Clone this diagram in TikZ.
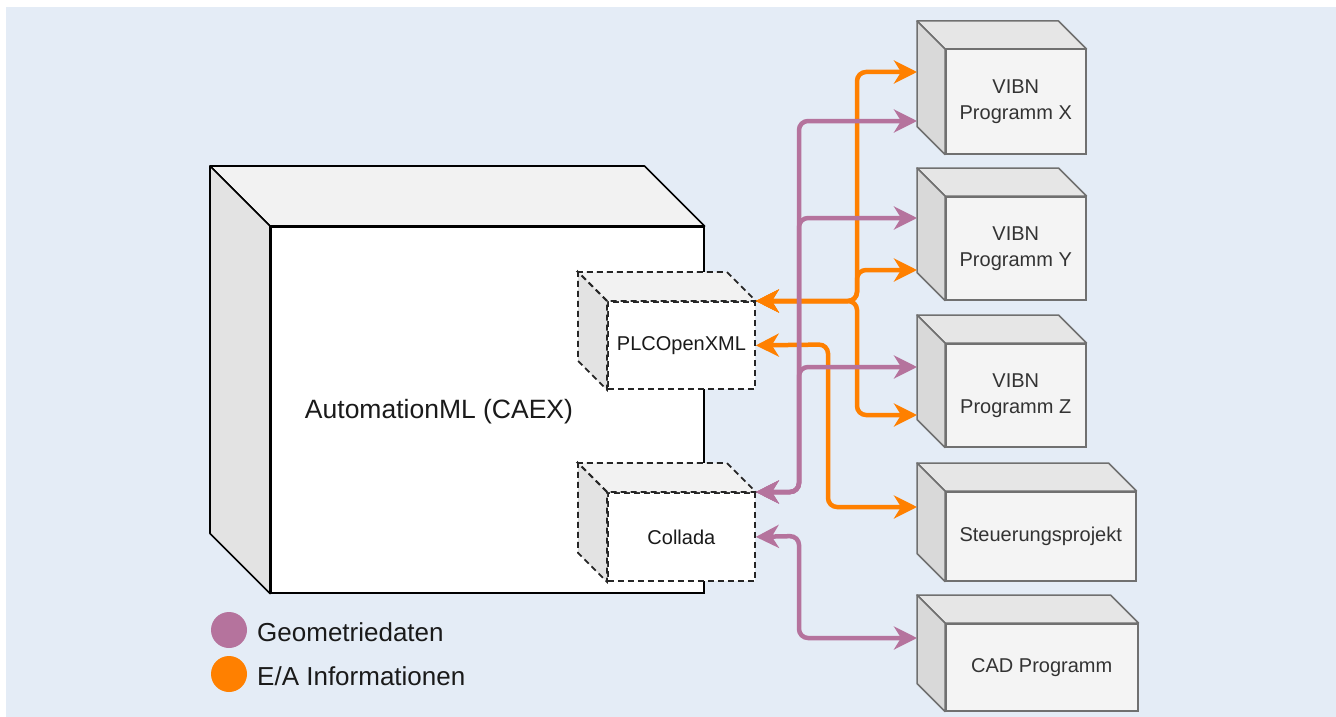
\documentclass[tikz,border=0pt]{standalone}
\usepackage{fontspec}
\setmainfont{Liberation Sans}
\usetikzlibrary{arrows.meta,calc}

\definecolor{bgblue}{HTML}{E4ECF6}
\definecolor{eaorange}{HTML}{FF8000}
\definecolor{geopurple}{HTML}{B5739D}
\definecolor{cubeline}{HTML}{707070}
\definecolor{cubefront}{HTML}{F4F4F4}
\definecolor{cubetop}{HTML}{E6E6E6}
\definecolor{cubeside}{HTML}{D9D9D9}
\definecolor{cubetext}{HTML}{333333}
\definecolor{caextop}{HTML}{F2F2F2}
\definecolor{caexside}{HTML}{E3E3E3}
\definecolor{inktext}{HTML}{1A1A1A}

\tikzset{
  % grey program cubes
  gfront/.style={draw=cubeline, line width=1.5pt, fill=cubefront, text=cubetext,
    font=\fontsize{20}{26}\selectfont, align=center, inner sep=0pt},
  gtop/.style={draw=cubeline, line width=1.5pt, fill=cubetop, line join=round},
  gside/.style={draw=cubeline, line width=1.5pt, fill=cubeside, line join=round},
  % AutomationML container
  afront/.style={draw=black, line width=1.6pt, fill=white, inner sep=0pt},
  atop/.style={draw=black, line width=1.6pt, fill=caextop, line join=round},
  aside/.style={draw=black, line width=1.6pt, fill=caexside, line join=round},
  % dashed data formats inside the container
  dfront/.style={draw=black!85, line width=1.8pt, dash pattern=on 6pt off 4pt, fill=white,
    text=inktext, font=\fontsize{20}{26}\selectfont, align=center, inner sep=0pt},
  dtop/.style={draw=black!85, line width=1.8pt, dash pattern=on 6pt off 4pt, fill=caextop},
  dside/.style={draw=black!85, line width=1.8pt, dash pattern=on 6pt off 4pt, fill=caexside},
  % connectors
  link/.style={line width=4.5pt, rounded corners=9pt,
    arrows={Stealth[length=23pt,width=23pt,inset=7pt]-Stealth[length=23pt,width=23pt,inset=7pt]}},
  ioline/.style={link, draw=eaorange},
  geoline/.style={link, draw=geopurple},
  legenddot/.style={circle, minimum size=36pt, inner sep=0pt},
  legendtext/.style={anchor=west, text=inktext, font=\fontsize{26}{30}\selectfont, inner sep=0pt},
}

% cube: name, x, y (front top-left), width, height, depth, style prefix, text
\newcommand\cubebox[8]{%
  \node[#7front, minimum width=#4pt, minimum height=#5pt, anchor=north west] (#1) at (#2,#3) {#8};
  \coordinate (#1-back) at ($(#1.north west)+(-#6,-#6)$);
  \filldraw[#7top] (#1.north west) -- ++(-#6,-#6) -- ($(#1.north east)+(-#6,-#6)$) -- (#1.north east) -- cycle;
  \filldraw[#7side] (#1.north west) -- ++(-#6,-#6) -- ($(#1.south west)+(-#6,-#6)$) -- (#1.south west) -- cycle;
}

\begin{document}
\begin{tikzpicture}[x=1pt,y=-1pt]
  \useasboundingbox (0,0) rectangle (1336,717);
  \fill[white] (0,0) rectangle (1336,717);
  \fill[bgblue] (6,7) rectangle (1336,717);

  % AutomationML (CAEX) container with its two data formats
  \cubebox{caex}{270}{226}{433}{366}{60}{a}{}
  \node[text=inktext, font=\fontsize{26.5}{30}\selectfont, inner sep=0pt] (caexlabel) at (439,412) {AutomationML (CAEX)};
  \cubebox{plc}{607}{301}{147}{87}{29}{d}{PLCOpenXML}
  \cubebox{col}{607}{492}{147}{88}{29}{d}{Collada}

  % tools
  \cubebox{vx}{945}{49}{140}{104}{28}{g}{VIBN\\Programm X}
  \cubebox{vy}{945}{196}{140}{103}{28}{g}{VIBN\\Programm Y}
  \cubebox{vz}{945}{343}{140}{103}{28}{g}{VIBN\\Programm Z}
  \cubebox{st}{945}{491}{190}{89}{28}{g}{Steuerungsprojekt}
  \cubebox{cad}{945}{623}{192}{87}{28}{g}{CAD Programm}

  % I/O information (orange)
  \draw[ioline] (plc.north east) -- (857,301) -- (857,72) -- (vx-back |- 0,72);
  \draw[ioline] (plc.north east) -- (857,301) -- (857,270) -- (vy-back |- 0,270);
  \draw[ioline] (plc.north east) -- (857,301) -- (857,415) -- (vz-back |- 0,415);
  \draw[ioline] (plc.east) -- (828,344.5) -- (828,507) -- (st-back |- 0,507);

  % geometry data (purple)
  \draw[geoline] (col.north east) -- (799,492) -- (799,121) -- (vx-back |- 0,121);
  \draw[geoline] (col.north east) -- (799,492) -- (799,218) -- (vy-back |- 0,218);
  \draw[geoline] (col.north east) -- (799,492) -- (799,367) -- (vz-back |- 0,367);
  \draw[geoline] (col.east) -- (799,536) -- (799,638) -- (cad-back |- 0,638);

  % legend
  \node[legenddot, fill=geopurple] (lgeo) at (229,630) {};
  \node[legendtext] (lgeotext) at (257,632) {Geometriedaten};
  \node[legenddot, fill=eaorange] (lio) at (229,674) {};
  \node[legendtext] (liotext) at (257,676) {E/A Informationen};
\end{tikzpicture}
\end{document}
